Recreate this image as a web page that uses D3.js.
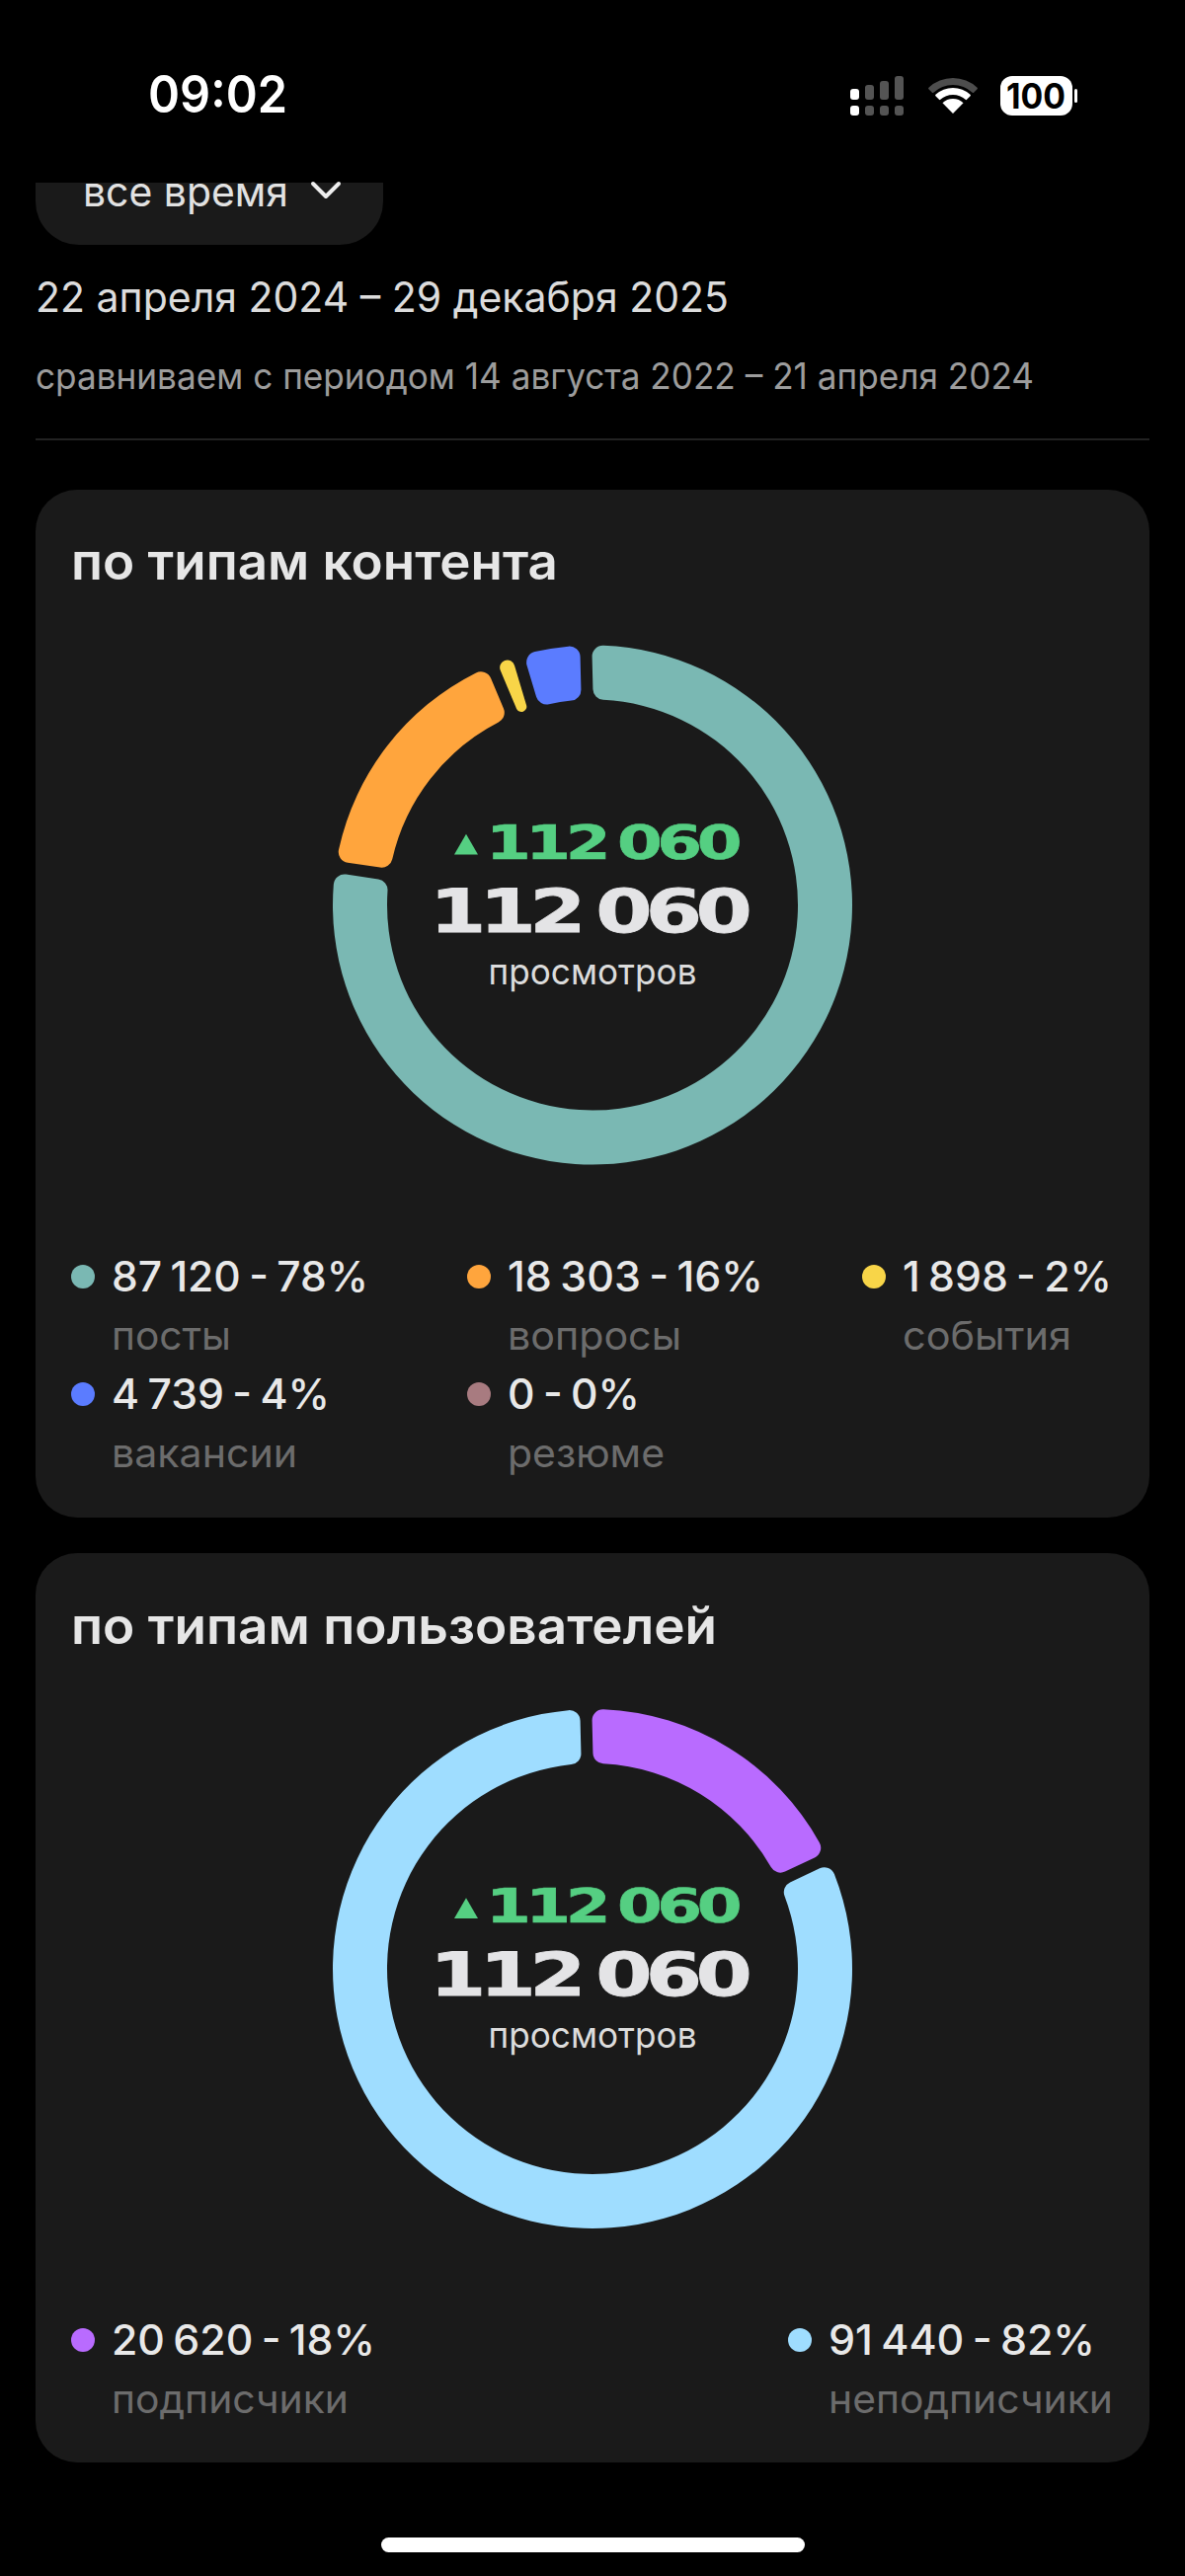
<!DOCTYPE html>
<html><head><meta charset="utf-8">
<script src="https://cdn.jsdelivr.net/npm/d3@7/dist/d3.min.js"></script>
<style>html,body{margin:0;padding:0;background:#000}svg{display:block}text{font-family:Inter,"Noto Sans",sans-serif}</style>
</head><body><div id="c"></div>
<script>
const contentLabels=["посты","вопросы","события","вакансии","резюме"];
const contentValues=[87120,18303,1898,4739,0];
const contentPercents=[78,16,2,4,0];
const contentColors=["#7ab8b3","#ffa53d","#f8d548","#5b7cff","#a87b80"];
const userLabels=["подписчики","неподписчики"];
const userValues=[20620,91440];
const userPercents=[18,82];
const userColors=[ "#b96bff","#9fddff"];
const centerTotal="112 060", centerDelta="112 060", centerLabel="просмотров";

const svg=d3.select("#c").append("svg").attr("width",1200).attr("height",2609).attr("viewBox","0 0 1200 2609");
svg.append("rect").attr("width",1200).attr("height",2609).attr("fill","#000");
const T=(x,y,s,o={})=>{const t=svg.append("text").attr("x",x).attr("y",y).text(s)
  .attr("font-size",o.size||40).attr("font-weight",o.weight||400).attr("fill",o.fill||"#e6e6e6").attr("text-anchor",o.anchor||"start");
  if(o.family)t.style("font-family",o.family);
  if(o.ws)t.style("word-spacing",o.ws+"px");
  if(o.ls)t.style("letter-spacing",o.ls+"px");
  if(o.stroke)t.attr("stroke",o.fill).attr("stroke-width",o.stroke);
  if(o.len)t.attr("textLength",o.len).attr("lengthAdjust","spacingAndGlyphs");return t;};
const fmt=v=>d3.format(",")(v).replace(/,/g," ");

// status bar
T(150,114,"09:02",{size:52,weight:600,fill:"#fff",len:141});
const sig=svg.append("g").attr("fill","#fff");
[[861,107,9,10,1],[861,90,9,11,1],[876,107,9,10,.33],[876,86,9,15,.33],[891,107,9,10,.33],[891,82,9,19,.33],[906,107,9,10,.33],[906,77,9,24,.33]].forEach(d=>
  sig.append("rect").attr("x",d[0]).attr("y",d[1]).attr("width",d[2]).attr("height",d[3]).attr("rx",3).attr("opacity",d[4]));
const arcW=d3.arc().startAngle(-0.78).endAngle(0.78).cornerRadius(1);
[[36,29,.3],[26,19,1]].forEach(d=>sig.append("path").attr("transform","translate(965,115)").attr("d",arcW.innerRadius(d[1]).outerRadius(d[0])()).attr("opacity",d[2]));
sig.append("path").attr("transform","translate(965,115)").attr("d",d3.arc().startAngle(-0.78).endAngle(0.78).innerRadius(0).outerRadius(15)());
svg.append("rect").attr("x",1013).attr("y",77).attr("width",73).attr("height",40).attr("rx",12).attr("fill","#fff");
svg.append("rect").attr("x",1088).attr("y",90).attr("width",3).attr("height",14).attr("rx",1.5).attr("fill","#fff");
T(1049,110,"100",{size:35,weight:700,fill:"#000",anchor:"middle",len:60});

// header
svg.append("clipPath").attr("id","pill").append("rect").attr("x",0).attr("y",185).attr("width",1200).attr("height",100);
svg.append("rect").attr("clip-path","url(#pill)").attr("x",36).attr("y",120).attr("width",352).attr("height",128).attr("rx",44).attr("fill","#1a1a1a");
T(84,209,"все время",{size:42,len:208,fill:"#e2e2e2"}).attr("clip-path","url(#pill)");
svg.append("path").attr("d","M317 186 L330 199 L343 186").attr("fill","none").attr("stroke","#eee").attr("stroke-width",4).attr("stroke-linecap","round").attr("stroke-linejoin","round");
T(36,316,"22 апреля 2024 – 29 декабря 2025",{size:42,len:702,fill:"#dcdcdc"});
T(36,394,"сравниваем с периодом 14 августа 2022 – 21 апреля 2024",{size:37,len:1011,fill:"#9c9c9c"});
svg.append("rect").attr("x",36).attr("y",444).attr("width",1128).attr("height",2).attr("fill","#222");

// cards
svg.append("rect").attr("x",36).attr("y",496).attr("width",1128).attr("height",1041).attr("rx",42).attr("fill","#1a1a1a");
svg.append("rect").attr("x",36).attr("y",1573).attr("width",1128).attr("height",921).attr("rx",42).attr("fill","#1a1a1a");
T(72,587,"по типам контента",{size:51,weight:600,len:493,fill:"#e6e6e6"});
T(72,1665,"по типам пользователей",{size:51,weight:600,len:654,fill:"#e6e6e6"});

// donuts
const R=263,r=208,gap=12,padR=(R+r)/2,pad=gap/padR;
const pie=d3.pie().sort(null).value(d=>d.value).startAngle(-pad/2).endAngle(2*Math.PI-pad/2);
const arc=d3.arc().innerRadius(r).outerRadius(R).cornerRadius(11).padRadius(padR).padAngle(pad);
function donut(cy,labels,values,colors){
  const rows=labels.map((l,i)=>({label:l,value:values[i],color:colors[i]})).filter(d=>d.value>0);
  const g=svg.append("g").attr("transform",`translate(600,${cy})`);
  g.selectAll("path").data(pie(rows)).join("path").attr("d",arc).attr("fill",d=>d.data.color);
  svg.append("path").attr("transform",`translate(472,${cy-58})`).attr("d",d3.symbol(d3.symbolTriangle,250)()).attr("fill","#55cf82");
  T(492,cy-47,centerDelta,{size:48,weight:700,fill:"#55cf82",family:'"DejaVu Sans"',len:254,ws:-4,ls:-4,stroke:.6});
  T(435,cy+27,centerTotal,{size:61,weight:700,fill:"#e4e4e6",family:'"DejaVu Sans"',len:320,ws:-4,ls:-5,stroke:.8});
  T(600,cy+80,centerLabel,{size:37,anchor:"middle",fill:"#dcdcdc",len:211});
}
donut(916.5,contentLabels,contentValues,contentColors);
donut(1994,userLabels,userValues,userColors);

// legends
function legend(cx,cy,color,val,pct,lab,len,sublen){
  svg.append("circle").attr("cx",cx).attr("cy",cy).attr("r",12).attr("fill",color);
  T(cx+29,cy+15,`${fmt(val)} - ${pct}%`,{size:42,weight:500,fill:"#e8e8e8",len,ws:-3});
  T(cx+29,cy+74,lab,{size:40,fill:"#6c6c6c",len:sublen});
}
const cCols=[84,485,885],cRows=[1293,1412];
const cLen=[260,259,212,221,134],cSub=[121,176,171,188,159];
contentLabels.forEach((l,i)=>legend(cCols[i%3],cRows[Math.floor(i/3)],contentColors[i],contentValues[i],contentPercents[i],l,cLen[i],cSub[i]));
const uCols=[84,810],uLen=[267,270],uSub=[240,288];
userLabels.forEach((l,i)=>legend(uCols[i],2370,userColors[i],userValues[i],userPercents[i],l,uLen[i],uSub[i]));

svg.append("rect").attr("x",386).attr("y",2570).attr("width",429).attr("height",15).attr("rx",7.5).attr("fill","#fff");
</script></body></html>
